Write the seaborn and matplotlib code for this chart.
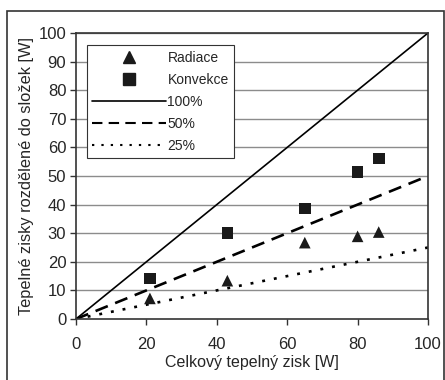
import pandas as pd
import matplotlib
matplotlib.use("Agg")
import matplotlib.pyplot as plt
from matplotlib.lines import Line2D
from matplotlib.patches import Rectangle
import seaborn as sns

# measured points
celkovy = [21, 43, 65, 80, 86]
radiace = [7.2, 13.4, 26.7, 28.9, 30.4]
konvekce = [14.2, 30.0, 38.6, 51.5, 56.1]

# reference lines
ref_x = [0, 21, 43, 65, 80, 86, 100]
ref_100 = [0, 21, 43, 65, 80, 86, 100]
ref_50 = [0, 10.5, 21.5, 32.5, 40, 43, 50]
ref_25 = [0, 5.25, 10.75, 16.25, 20, 21.5, 25]

sns.set_style("white")
plt.rcParams['font.family'] = ['Liberation Sans', 'DejaVu Sans']

pts = pd.DataFrame({
    "x": celkovy * 2,
    "y": radiace + konvekce,
    "serie": ["Radiace"] * 5 + ["Konvekce"] * 5,
})
lines = pd.DataFrame({
    "x": ref_x * 3,
    "y": ref_100 + ref_50 + ref_25,
    "serie": ["100%"] * 7 + ["50%"] * 7 + ["25%"] * 7,
})

fig = plt.figure(figsize=(4.45, 3.8), dpi=100)
ax = fig.add_axes([76 / 445, 1 - 319 / 380, 352 / 445, 286 / 380])

for y in range(10, 101, 10):
    ax.axhline(y, color="#8c8c8c", lw=1, zorder=0)

styles = {"100%": ("-", 1.2), "50%": ((0, (5, 3)), 1.9), "25%": ((0, (1.1, 3.4)), 1.9)}
for name, grp in lines.groupby("serie", sort=False):
    ls, lw = styles[name]
    sns.lineplot(data=grp, x="x", y="y", ax=ax, color="black", lw=lw,
                 linestyle=ls, legend=False, zorder=2)

sns.scatterplot(data=pts, x="x", y="y", style="serie",
                markers={"Radiace": "^", "Konvekce": "s"},
                color="#1a1a1a", s=70, edgecolor="none", ax=ax, legend=False, zorder=3)

ax.set_xlim(0, 100)
ax.set_ylim(0, 100)
ax.set_xticks(range(0, 101, 20))
ax.set_yticks(range(0, 101, 10))
ax.tick_params(direction="out", length=4, width=1, color="#333333",
               labelsize=12, pad=3, left=True, bottom=True)
ax.tick_params(axis="x", pad=9)
for s in ax.spines.values():
    s.set_color("#333333")
    s.set_linewidth(1.2)
ax.set_xlabel("Celkový tepelný zisk [W]", fontsize=11.5, labelpad=2)
ax.set_ylabel("Tepelné zisky rozdělené do složek [W]", fontsize=11.8, labelpad=3)

handles = [
    Line2D([], [], marker="^", color="#1a1a1a", ls="none", markersize=9),
    Line2D([], [], marker="s", color="#1a1a1a", ls="none", markersize=8),
    Line2D([], [], color="black", lw=1.2, ls="-"),
    Line2D([], [], color="black", lw=1.5, ls=(0, (5, 3))),
    Line2D([], [], color="black", lw=1.5, ls=(0, (1.1, 3.4))),
]
leg = ax.legend(handles, ["Radiace", "Konvekce", "100%", "50%", "25%"],
                loc="upper left", bbox_to_anchor=(0.031, 0.958), borderaxespad=0,
                fontsize=10, handlelength=5.3, handletextpad=0.1, labelspacing=0.58,
                borderpad=0.4, fancybox=False, framealpha=1, edgecolor="#333333")
leg.get_frame().set_linewidth(0.8)

fig.patches.append(Rectangle((7 / 445, -0.05), 437 / 445, 1 - 11 / 380 + 0.05,
                             transform=fig.transFigure, fill=False,
                             edgecolor="#333333", lw=1.2))

fig.savefig("out.png", dpi=100)
